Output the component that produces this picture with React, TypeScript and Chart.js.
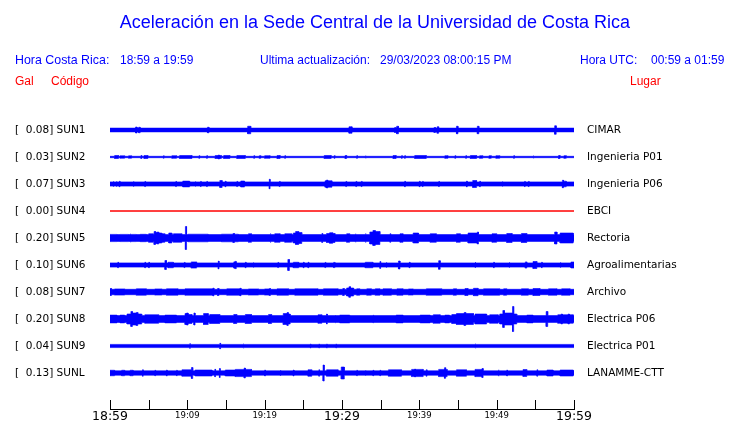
import React, { useEffect, useRef } from "react";
import { Chart, registerables } from "chart.js";

Chart.register(...registerables);

// ---------- data ----------
const stationCodes = ["SUN1", "SUN2", "SUN3", "SUN4", "SUN5", "SUN6", "SUN7", "SUN8", "SUN9", "SUNL"];
const stationPlaces = [
  "CIMAR", "Ingenieria P01", "Ingenieria P06", "EBCI", "Rectoria",
  "Agroalimentarias", "Archivo", "Electrica P06", "Electrica P01", "LANAMME-CTT",
];
const peakGal = [0.08, 0.03, 0.07, 0.0, 0.2, 0.1, 0.08, 0.2, 0.04, 0.13];
// background (noise) half amplitude of each trace, gal
const baseGal = [0.038, 0.014, 0.042, 0, 0.068, 0.042, 0.054, 0.068, 0.032, 0.044];
const traceColors = ["#0000ff", "#0000ff", "#0000ff", "#ff0000", "#0000ff", "#0000ff", "#0000ff", "#0000ff", "#0000ff", "#0000ff"];

// minutes after 18:59 ; ticks every 5 minutes
const xTickLabels = ["18:59", "", "19:09", "", "19:19", "", "19:29", "", "19:39", "", "19:49", "", "19:59"];
const bigTickLabels = ["18:59", "19:29", "19:59"];

// bursts: [start minute, end minute, half amplitude in gal]
const sun1: number[][] = [
  [3.3, 3.5, 0.06], [3.7, 3.9, 0.055], [12.6, 12.8, 0.055], [17.8, 18.2, 0.075],
  [30.9, 31.3, 0.065], [36.8, 37.0, 0.05], [37.1, 37.3, 0.075], [41.9, 42.1, 0.05],
  [42.3, 42.5, 0.065], [44.8, 45.0, 0.075], [47.5, 47.7, 0.075], [57.5, 57.7, 0.085],
];
const sun2: number[][] = [
  [0.6, 1.1, 0.03], [1.3, 1.9, 0.024], [2.4, 2.8, 0.024], [4.0, 4.1, 0.03], [4.4, 4.9, 0.03],
  [6.9, 7.0, 0.024], [8.0, 8.6, 0.026], [9.0, 10.6, 0.03], [11.5, 11.6, 0.026], [12.5, 12.6, 0.026],
  [13.6, 14.0, 0.03], [14.0, 14.15, 0.04], [14.15, 14.4, 0.03], [14.7, 15.5, 0.03], [16.4, 17.5, 0.03],
  [18.6, 18.7, 0.026], [19.3, 19.5, 0.026], [20.0, 20.7, 0.026], [21.6, 22.0, 0.03], [22.6, 22.7, 0.026],
  [27.7, 28.6, 0.03], [29.0, 29.1, 0.026], [30.4, 30.6, 0.03], [31.9, 32.0, 0.026], [33.0, 33.1, 0.026],
  [36.6, 37.0, 0.03], [37.7, 37.8, 0.026], [38.1, 38.2, 0.026], [39.4, 40.9, 0.03], [43.3, 43.7, 0.026],
  [44.6, 44.7, 0.026], [46.0, 46.1, 0.026], [46.6, 47.4, 0.03], [47.8, 48.2, 0.026], [49.0, 49.3, 0.026],
  [49.9, 50.4, 0.026], [52.2, 52.3, 0.026], [54.7, 54.8, 0.026], [58.0, 58.2, 0.03], [58.7, 59.0, 0.026],
];
const sun3: number[][] = [
  [0.4, 0.5, 0.055], [0.8, 0.9, 0.055], [1.2, 1.3, 0.055], [3.0, 3.1, 0.055], [4.5, 4.6, 0.052],
  [8.5, 8.6, 0.052], [9.4, 10.3, 0.058], [11.0, 11.1, 0.052], [11.7, 11.8, 0.052], [12.5, 12.6, 0.052],
  [14.2, 14.5, 0.07], [14.9, 15.0, 0.055], [16.4, 16.5, 0.052], [16.9, 17.4, 0.06], [20.6, 20.7, 0.095],
  [21.9, 22.0, 0.052], [27.8, 28.0, 0.064], [28.0, 28.15, 0.08], [28.15, 28.7, 0.064],
  [30.5, 30.6, 0.052], [31.8, 31.9, 0.052], [32.5, 32.6, 0.052], [38.1, 38.2, 0.055], [40.0, 40.1, 0.055],
  [40.4, 40.5, 0.052], [42.5, 42.6, 0.052], [46.1, 46.2, 0.058], [46.9, 47.4, 0.07], [47.8, 47.9, 0.055],
  [50.7, 50.8, 0.052], [53.6, 53.7, 0.052], [54.1, 54.2, 0.052], [58.5, 58.65, 0.075], [58.65, 59.0, 0.056],
];
const sun4: number[][] = [];
const sun5: number[][] = [
  [0.0, 0.9, 0.072], [1.3, 2.4, 0.072], [2.6, 2.7, 0.085], [2.8, 3.4, 0.072], [3.9, 4.7, 0.074],
  [5.0, 5.6, 0.085], [5.7, 5.9, 0.13], [5.9, 6.1, 0.11], [6.1, 6.3, 0.12], [6.3, 6.7, 0.1],
  [6.7, 7.1, 0.085], [7.6, 8.0, 0.1], [8.2, 9.3, 0.085], [9.75, 9.9, 0.23], [10.1, 12.7, 0.076],
  [14.4, 15.9, 0.076], [15.9, 16.1, 0.09], [16.1, 16.6, 0.076], [17.9, 18.3, 0.085], [20.7, 20.8, 0.09],
  [21.3, 22.0, 0.085], [22.6, 23.5, 0.085], [23.7, 24.0, 0.1], [24.0, 24.4, 0.13], [24.4, 24.8, 0.11],
  [27.4, 27.5, 0.09], [28.0, 28.4, 0.09], [28.4, 28.8, 0.106], [28.8, 29.1, 0.09],
  [30.6, 31.0, 0.085], [31.7, 31.8, 0.085], [33.0, 33.1, 0.09], [33.6, 34.0, 0.12], [34.0, 34.3, 0.15],
  [34.3, 34.9, 0.13], [36.2, 36.3, 0.085], [37.5, 37.9, 0.085], [39.2, 39.9, 0.1], [41.4, 42.2, 0.085],
  [44.8, 45.3, 0.085], [46.3, 47.5, 0.1], [47.5, 47.65, 0.12], [49.4, 50.0, 0.085], [51.3, 52.0, 0.09],
  [53.2, 53.9, 0.09], [57.5, 57.8, 0.12], [58.2, 59.9, 0.1],
];
const sun6: number[][] = [
  [1.0, 1.1, 0.055], [4.5, 4.6, 0.055], [5.0, 5.1, 0.055], [7.1, 7.3, 0.09], [7.5, 8.2, 0.055],
  [9.6, 9.7, 0.052], [10.5, 11.2, 0.062], [14.0, 14.1, 0.078], [16.0, 16.15, 0.062], [16.15, 16.3, 0.072],
  [16.3, 16.4, 0.062], [17.5, 17.6, 0.055], [18.5, 18.6, 0.052], [21.7, 21.8, 0.052], [23.0, 23.2, 0.11],
  [23.7, 24.4, 0.055], [25.0, 25.1, 0.055], [25.6, 25.7, 0.055], [27.8, 27.9, 0.052], [28.9, 29.1, 0.052],
  [33.0, 34.0, 0.055], [34.9, 35.0, 0.068], [35.7, 35.8, 0.055], [37.3, 37.5, 0.08], [38.7, 38.8, 0.055],
  [42.5, 42.7, 0.086], [47.2, 47.3, 0.06], [49.6, 49.7, 0.055], [51.6, 51.7, 0.055], [53.7, 53.9, 0.062],
  [54.7, 55.2, 0.07], [55.8, 55.9, 0.055], [58.2, 58.3, 0.055], [59.6, 60.0, 0.06],
];
const sun7: number[][] = [
  [0.0, 0.2, 0.07], [0.6, 1.9, 0.062], [3.4, 4.7, 0.064], [5.8, 6.7, 0.062], [7.3, 8.8, 0.064],
  [9.7, 13.3, 0.064], [13.3, 13.45, 0.076], [13.9, 14.1, 0.07], [15.1, 16.8, 0.064], [16.8, 16.95, 0.074],
  [17.9, 19.2, 0.062], [20.0, 20.6, 0.062], [20.6, 20.75, 0.07], [21.6, 23.1, 0.064], [23.9, 26.9, 0.064],
  [27.6, 29.5, 0.064], [30.1, 30.3, 0.07], [30.6, 30.9, 0.08], [30.9, 31.1, 0.106], [31.1, 31.5, 0.08],
  [31.9, 32.3, 0.064], [33.2, 33.8, 0.064], [34.3, 34.9, 0.064], [35.3, 36.4, 0.064], [37.1, 37.9, 0.064],
  [38.6, 39.2, 0.062], [40.9, 42.9, 0.064], [44.4, 44.8, 0.064], [45.9, 46.3, 0.07], [47.0, 47.6, 0.074],
  [48.3, 50.4, 0.064], [50.9, 51.3, 0.064], [53.2, 54.1, 0.064], [54.7, 55.6, 0.07], [56.7, 57.8, 0.064],
  [58.4, 59.5, 0.064],
];
const sun8: number[][] = [
  [0.0, 0.9, 0.078], [1.3, 1.9, 0.078], [2.2, 2.7, 0.1], [2.7, 2.9, 0.15], [2.9, 3.4, 0.12],
  [3.4, 3.6, 0.13], [3.6, 4.1, 0.1], [4.5, 6.3, 0.085], [7.1, 8.6, 0.078], [9.7, 9.9, 0.11],
  [9.9, 10.1, 0.12], [10.1, 10.6, 0.09], [10.85, 11.0, 0.12], [12.1, 12.7, 0.11], [12.9, 14.2, 0.09],
  [16.0, 16.4, 0.09], [17.5, 18.3, 0.09], [20.5, 20.9, 0.09], [22.4, 22.9, 0.11], [22.9, 23.05, 0.13],
  [23.05, 23.3, 0.1], [26.9, 27.4, 0.085], [28.0, 28.1, 0.1], [29.1, 29.2, 0.078],
  [29.7, 31.0, 0.078], [34.0, 34.1, 0.075], [37.0, 37.9, 0.078], [40.1, 41.4, 0.078], [41.8, 42.7, 0.085],
  [43.3, 43.9, 0.078], [44.2, 44.8, 0.09], [44.8, 45.8, 0.11], [45.8, 46.0, 0.13], [46.0, 47.0, 0.11],
  [47.2, 48.7, 0.1], [49.1, 50.2, 0.085], [50.4, 50.8, 0.1], [50.8, 51.0, 0.17], [51.0, 52.05, 0.12],
  [52.05, 52.2, 0.25], [52.2, 52.6, 0.1], [53.9, 54.7, 0.078], [56.4, 56.6, 0.15], [57.9, 58.35, 0.085],
  [58.35, 58.5, 0.1], [58.5, 59.25, 0.085], [59.25, 59.4, 0.1], [59.4, 59.9, 0.085],
];
const sun9: number[][] = [
  [10.3, 10.4, 0.045], [14.2, 14.3, 0.055], [17.2, 17.3, 0.045], [25.9, 26.0, 0.04],
  [27.0, 27.1, 0.04], [28.0, 28.1, 0.04], [29.2, 29.3, 0.04], [47.2, 47.3, 0.045],
];
const sunL: number[][] = [
  [0.0, 0.6, 0.055], [1.5, 1.9, 0.055], [2.6, 3.0, 0.055], [4.2, 4.3, 0.064], [5.8, 5.9, 0.055],
  [7.3, 7.4, 0.06], [8.6, 8.7, 0.055], [9.3, 10.5, 0.064], [10.55, 10.7, 0.11], [11.0, 13.2, 0.06],
  [13.55, 13.65, 0.074], [14.15, 14.25, 0.09], [14.9, 16.2, 0.06], [16.2, 17.35, 0.072], [17.35, 17.5, 0.1],
  [17.5, 18.3, 0.072], [20.0, 20.1, 0.06], [22.0, 22.1, 0.06], [23.7, 23.8, 0.06], [25.6, 26.1, 0.064],
  [27.0, 27.1, 0.064], [27.55, 27.7, 0.16], [28.0, 29.5, 0.064], [29.9, 30.3, 0.12], [31.9, 32.0, 0.055],
  [33.0, 33.1, 0.055], [34.0, 34.1, 0.055], [34.9, 35.0, 0.055], [36.0, 37.7, 0.064], [39.0, 39.4, 0.072],
  [39.4, 39.5, 0.08], [39.5, 40.5, 0.072], [40.9, 41.0, 0.064], [42.5, 43.25, 0.072], [43.25, 43.4, 0.106],
  [43.4, 43.6, 0.072], [44.8, 46.1, 0.064], [47.2, 48.1, 0.072], [48.1, 48.25, 0.09], [50.2, 50.3, 0.064],
  [51.3, 51.4, 0.06], [53.4, 53.9, 0.068], [55.2, 55.3, 0.064], [56.5, 57.3, 0.06], [58.2, 59.9, 0.06],
];
const bursts = [sun1, sun2, sun3, sun4, sun5, sun6, sun7, sun8, sun9, sunL];

const GAL_PER_ROW = 0.54; // vertical spacing between traces, in gal
const START_MIN = 0;
const END_MIN = 60;

// ---------- header text ----------
const titleText = "Aceleración en la Sede Central de la Universidad de Costa Rica";

function envelope(base: number, list: number[][]) {
  const pts: { x: number; a: number }[] = [{ x: START_MIN, a: base }];
  for (const [t0, t1, a] of list) {
    pts.push({ x: t0, a: base }, { x: t0, a }, { x: t1, a }, { x: t1, a: base });
  }
  pts.push({ x: END_MIN, a: base });
  return pts;
}

const rowOffsets = stationCodes.map((_, i) => i * GAL_PER_ROW);

const upTicksPlugin = {
  id: "upTicks",
  afterDraw(chart: any) {
    const xs = chart.scales.x;
    const ctx = chart.ctx;
    const bottom = Math.round(chart.chartArea.bottom);
    ctx.save();
    ctx.strokeStyle = "#000";
    ctx.lineWidth = 1;
    xs.ticks.forEach((t: any) => {
      const px = Math.round(xs.getPixelForValue(t.value)) + 0.5;
      ctx.beginPath();
      ctx.moveTo(px, bottom);
      ctx.lineTo(px, bottom - 9);
      ctx.stroke();
    });
    ctx.restore();
  },
};

const noPadFit = (w: number) => (s: any) => {
  s.width = w;
  s.paddingTop = 0;
  s.paddingBottom = 0;
};

export default function App() {
  const ref = useRef<HTMLCanvasElement>(null);

  useEffect(() => {
    const datasets: any[] = [];
    stationCodes.forEach((code, i) => {
      const off = rowOffsets[i];
      const env = envelope(baseGal[i], bursts[i]);
      const common = {
        type: "line",
        pointRadius: 0,
        borderWidth: i === 3 ? 1 : 0.6,
        borderColor: traceColors[i],
        backgroundColor: traceColors[i],
        tension: 0,
        fill: { value: off },
        yAxisID: "y",
      };
      datasets.push({ ...common, label: code + " +", data: env.map((p) => ({ x: p.x, y: off - p.a })) });
      datasets.push({ ...common, label: code + " -", data: env.map((p) => ({ x: p.x, y: off + p.a })) });
    });

    const yMin = -GAL_PER_ROW;
    const yMax = GAL_PER_ROW * (stationCodes.length + 1 / 3);

    const chart = new Chart(ref.current!, {
      type: "line",
      data: { datasets },
      options: {
        animation: false,
        responsive: false,
        devicePixelRatio: 1,
        events: [],
        layout: { padding: { top: 103, left: 15, right: 0, bottom: 0 } },
        plugins: { legend: { display: false }, tooltip: { enabled: false }, title: { display: false } },
        scales: {
          x: {
            type: "linear",
            min: START_MIN,
            max: END_MIN,
            grid: { display: false, drawTicks: false },
            border: { display: true, color: "#000", width: 1 },
            ticks: {
              stepSize: 5,
              autoSkip: false,
              maxRotation: 0,
              padding: 0,
              color: "#000",
              callback: (v: any) => xTickLabels[Math.round(Number(v) / 5)] ?? "",
              font: (ctx: any) => {
                const lbl = xTickLabels[Math.round(Number(ctx.tick?.value ?? 0) / 5)];
                return bigTickLabels.includes(lbl)
                  ? { family: "DejaVu Sans", size: 12.5 }
                  : { family: "DejaVu Sans", size: 8.5, lineHeight: 1.55 };
              },
            },
            afterFit: (s: any) => {
              s.height = 14;
            },
          },
          y: {
            type: "linear",
            position: "left",
            reverse: true,
            min: yMin,
            max: yMax,
            grid: { display: false, drawTicks: false },
            border: { display: false },
            afterBuildTicks: (s: any) => {
              s.ticks = rowOffsets.map((v) => ({ value: v }));
            },
            ticks: {
              autoSkip: false,
              crossAlign: "far",
              padding: 0,
              color: "#000",
              font: { family: "DejaVu Sans", size: 10.5 },
              callback: (_v: any, i: number) => `[  ${peakGal[i].toFixed(2)}] ${stationCodes[i]}`,
            },
            afterFit: noPadFit(95),
          },
          y2: {
            type: "linear",
            position: "right",
            reverse: true,
            min: yMin,
            max: yMax,
            grid: { display: false, drawTicks: false },
            border: { display: false },
            afterBuildTicks: (s: any) => {
              s.ticks = rowOffsets.map((v) => ({ value: v }));
            },
            ticks: {
              autoSkip: false,
              crossAlign: "near",
              padding: 13,
              color: "#000",
              font: { family: "DejaVu Sans", size: 10.5 },
              callback: (_v: any, i: number) => stationPlaces[i],
            },
            afterFit: noPadFit(166),
          },
        },
      },
      plugins: [upTicksPlugin],
    } as any);
    return () => chart.destroy();
  }, []);

  const blue = "#0000ff";
  const red = "#ff0000";
  const hdr: React.CSSProperties = {
    position: "absolute",
    fontFamily: "'Liberation Sans', Arial, sans-serif",
    fontSize: 12,
    lineHeight: "12px",
    whiteSpace: "pre",
    margin: 0,
  };

  return (
    <div style={{ position: "absolute", left: 0, top: 0, width: 740, height: 423, background: "#fff", overflow: "hidden" }}>
      <canvas ref={ref} width={740} height={423} style={{ position: "absolute", left: 0, top: 0, display: "block" }} />
      <div
        style={{
          ...hdr,
          left: 0,
          width: 750,
          textAlign: "center",
          top: 13,
          fontSize: 18,
          lineHeight: "18px",
          color: blue,
        }}
      >
        {titleText}
      </div>
      <div style={{ ...hdr, left: 15, top: 54, fontSize: 12.4, color: blue }}>Hora Costa Rica:</div>
      <div style={{ ...hdr, left: 120, top: 54, color: blue }}>18:59 a 19:59</div>
      <div style={{ ...hdr, left: 260, top: 54, color: blue }}>Ultima actualización:</div>
      <div style={{ ...hdr, left: 380, top: 54, color: blue }}>29/03/2023 08:00:15 PM</div>
      <div style={{ ...hdr, left: 580, top: 54, color: blue }}>Hora UTC:</div>
      <div style={{ ...hdr, left: 651, top: 54, color: blue }}>00:59 a 01:59</div>
      <div style={{ ...hdr, left: 15, top: 75, color: red }}>Gal</div>
      <div style={{ ...hdr, left: 51, top: 75, color: red }}>Código</div>
      <div style={{ ...hdr, left: 630, top: 75, color: red }}>Lugar</div>
    </div>
  );
}
